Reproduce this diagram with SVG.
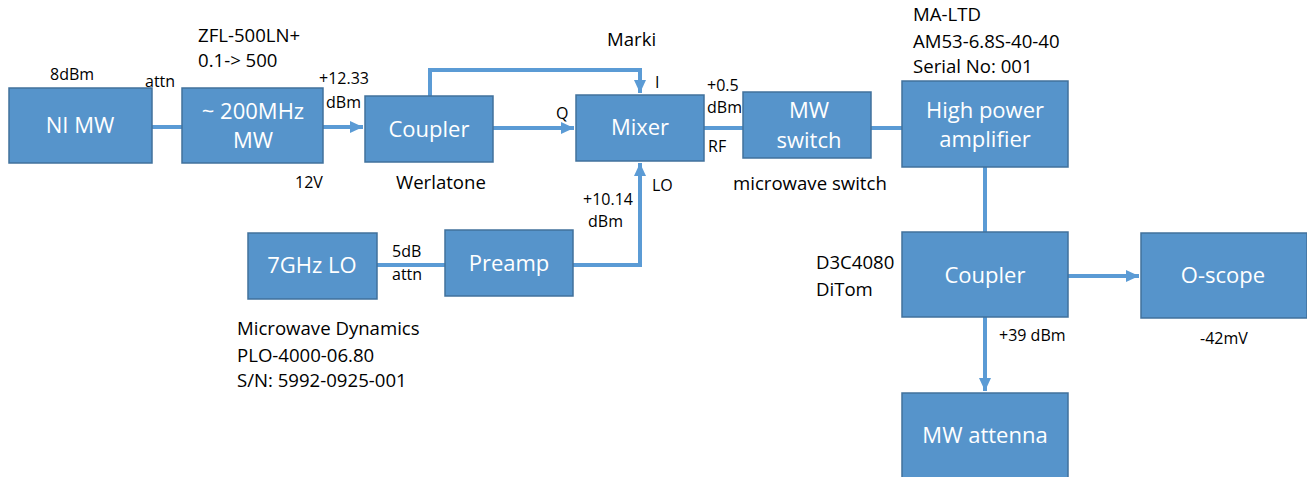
<svg xmlns="http://www.w3.org/2000/svg" width="1307" height="477" viewBox="0 0 1307 477">
<style>
.box{fill:#5694CB;stroke:#41719C;stroke-width:1.5}
.bt{font-family:"Open Sans","Liberation Sans",sans-serif;font-size:22px;fill:#fff;text-anchor:middle}
.lb{font-family:"Open Sans","Liberation Sans",sans-serif;font-size:18.6px;fill:#000}
.sm{font-family:"Open Sans","Liberation Sans",sans-serif;font-size:16px;fill:#000}
.ln{fill:none;stroke:#5B9BD5;stroke-width:4}
</style>
<defs>
<marker id="ah" markerUnits="userSpaceOnUse" markerWidth="14" markerHeight="14" viewBox="0 0 14 14" refX="13" refY="7" orient="auto">
<path d="M0,1 L13,7 L0,13 Z" fill="#5B9BD5"/>
</marker>
</defs>
<rect width="1307" height="477" fill="#fff"/>
<g id="connectors">
<path class="ln" d="M152,127 H182"/>
<path class="ln" d="M323,127 H363" marker-end="url(#ah)"/>
<path class="ln" d="M493,128 H574" marker-end="url(#ah)"/>
<path class="ln" d="M430,96 V70 H640 V93" marker-end="url(#ah)"/>
<path class="ln" d="M377,265 H445"/>
<path class="ln" d="M573,265 H640 V163" marker-end="url(#ah)"/>
<path class="ln" d="M704,128 H743"/>
<path class="ln" d="M871,128 H902"/>
<path class="ln" d="M985,167 V232"/>
<path class="ln" d="M1068,276 H1139" marker-end="url(#ah)"/>
<path class="ln" d="M985,317 V391" marker-end="url(#ah)"/>
</g>
<g id="ni-mw"><rect class="box" x="9" y="88" width="143" height="75"/><text class="bt" x="80" y="133">NI MW</text></g>
<g id="mw-200"><rect class="box" x="182" y="88" width="141" height="75"/><text class="bt" x="253" y="119">~ 200MHz</text><text class="bt" x="253" y="148">MW</text></g>
<g id="coupler1"><rect class="box" x="365" y="96" width="128" height="66"/><text class="bt" x="429" y="137">Coupler</text></g>
<g id="mixer"><rect class="box" x="576" y="95" width="128" height="66"/><text class="bt" x="640" y="135">Mixer</text></g>
<g id="mw-switch"><rect class="box" x="743" y="92" width="128" height="66"/><text class="bt" x="809" y="118">MW</text><text class="bt" x="809" y="148">switch</text></g>
<g id="hpa"><rect class="box" x="902" y="81" width="166" height="86"/><text class="bt" x="985" y="118">High power</text><text class="bt" x="985" y="147">amplifier</text></g>
<g id="coupler2"><rect class="box" x="902" y="232" width="166" height="85"/><text class="bt" x="985" y="283">Coupler</text></g>
<g id="oscope"><rect class="box" x="1141" y="233" width="166" height="85"/><text class="bt" x="1223" y="283">O-scope</text></g>
<g id="attenna"><rect class="box" x="902" y="393" width="166" height="90"/><text class="bt" x="985" y="443">MW attenna</text></g>
<g id="lo7"><rect class="box" x="248" y="233" width="129" height="66"/><text class="bt" x="312" y="273">7GHz LO</text></g>
<g id="preamp"><rect class="box" x="445" y="230" width="128" height="66"/><text class="bt" x="509" y="271">Preamp</text></g>
<g id="labels">
<text class="sm" x="50" y="80">8dBm</text>
<text class="sm" x="145" y="87">attn</text>
<text class="lb" x="198" y="42">ZFL-500LN+</text>
<text class="lb" x="198" y="67">0.1-&gt; 500</text>
<text class="sm" x="319" y="84">+12.33</text>
<text class="sm" x="326" y="108">dBm</text>
<text class="sm" x="295" y="188">12V</text>
<text class="lb" x="607" y="46">Marki</text>
<text class="sm" x="655" y="88">I</text>
<text class="sm" x="556" y="119">Q</text>
<text class="lb" x="396" y="189">Werlatone</text>
<text class="sm" x="652" y="191">LO</text>
<text class="sm" x="583" y="205">+10.14</text>
<text class="sm" x="588" y="227">dBm</text>
<text class="sm" x="707" y="91">+0.5</text>
<text class="sm" x="707" y="113">dBm</text>
<text class="sm" x="708" y="152">RF</text>
<text class="lb" x="913" y="21">MA-LTD</text>
<text class="lb" x="913" y="48">AM53-6.8S-40-40</text>
<text class="lb" x="913" y="73">Serial No: 001</text>
<text class="lb" x="733" y="190">microwave switch</text>
<text class="sm" x="392" y="257">5dB</text>
<text class="sm" x="392" y="280">attn</text>
<text class="lb" x="237" y="335">Microwave Dynamics</text>
<text class="lb" x="237" y="362">PLO-4000-06.80</text>
<text class="lb" x="237" y="387">S/N: 5992-0925-001</text>
<text class="lb" x="816" y="269">D3C4080</text>
<text class="lb" x="816" y="296">DiTom</text>
<text class="sm" x="999" y="341">+39 dBm</text>
<text class="sm" x="1200" y="344">-42mV</text>
</g>
</svg>
